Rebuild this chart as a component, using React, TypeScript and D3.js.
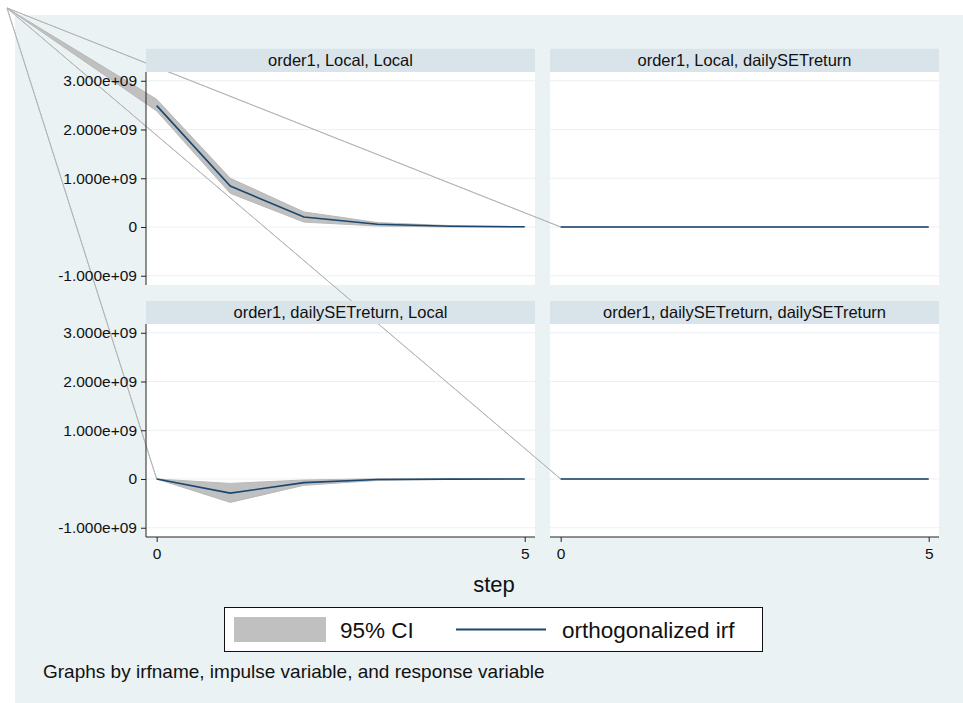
import * as d3 from "d3";
import React, { useEffect, useRef } from "react";

// data
const steps = [0, 1, 2, 3, 4, 5];

const panelTitles = [
  "order1, Local, Local",
  "order1, Local, dailySETreturn",
  "order1, dailySETreturn, Local",
  "order1, dailySETreturn, dailySETreturn",
];

const irfLocalLocal = [2.49e9, 0.84e9, 0.205e9, 0.055e9, 0.014e9, 0.004e9];
const lowerLocalLocal = [2.38e9, 0.69e9, 0.1e9, 0.02e9, 0.0, 0.0];
const upperLocalLocal = [2.62e9, 1.0e9, 0.31e9, 0.09e9, 0.028e9, 0.008e9];

const irfLocalDaily = [0, 0, 0, 0, 0, 0];
const lowerLocalDaily = [0, 0, 0, 0, 0, 0];
const upperLocalDaily = [0, 0, 0, 0, 0, 0];

const irfDailyLocal = [0, -0.29e9, -0.075e9, -0.01e9, -0.002e9, 0];
const lowerDailyLocal = [0, -0.48e9, -0.13e9, -0.03e9, -0.006e9, -0.001e9];
const upperDailyLocal = [0, -0.09e9, -0.02e9, 0.005e9, 0.002e9, 0.001e9];

const irfDailyDaily = [0, 0, 0, 0, 0, 0];
const lowerDailyDaily = [0, 0, 0, 0, 0, 0];
const upperDailyDaily = [0, 0, 0, 0, 0, 0];

const yTicks = [-1e9, 0, 1e9, 2e9, 3e9];
const yTickLabels = ["-1.000e+09", "0", "1.000e+09", "2.000e+09", "3.000e+09"];
const xTicks = [0, 5];

const legendLabels = ["95% CI", "orthogonalized irf"];
const xTitle = "step";
const noteText = "Graphs by irfname, impulse variable, and response variable";

const App: React.FC = () => {
  const svgRef = useRef<SVGSVGElement | null>(null);

  useEffect(() => {
    const width = 963;
    const height = 703;
    const svg = d3.select(svgRef.current);
    svg.selectAll("*").remove();

    const font = "'Liberation Sans', Arial, Helvetica, sans-serif";
    const navy = "#1a476f";
    const ciGrey = "#c0c0c0";
    const origin: [number, number] = [7, 8]; // stray path start seen in the picture

    const cols = [
      { x0: 146, x1: 535 },
      { x0: 550, x1: 939 },
    ];
    const rows = [
      { strip: 48.7, top: 72, bottom: 285 },
      { strip: 301, top: 324, bottom: 537 },
    ];

    const panels = [
      { title: panelTitles[0], irf: irfLocalLocal, lo: lowerLocalLocal, hi: upperLocalLocal, c: 0, r: 0 },
      { title: panelTitles[1], irf: irfLocalDaily, lo: lowerLocalDaily, hi: upperLocalDaily, c: 1, r: 0 },
      { title: panelTitles[2], irf: irfDailyLocal, lo: lowerDailyLocal, hi: upperDailyLocal, c: 0, r: 1 },
      { title: panelTitles[3], irf: irfDailyDaily, lo: lowerDailyDaily, hi: upperDailyDaily, c: 1, r: 1 },
    ].map((p) => {
      const col = cols[p.c];
      const row = rows[p.r];
      const x = d3.scaleLinear().domain([-0.145, 5.14]).range([col.x0, col.x1]);
      const y = d3.scaleLinear().domain([-1.19e9, 3.18e9]).range([row.bottom, row.top]);
      return { ...p, col, row, x, y };
    });

    // background
    svg.append("rect").attr("width", width).attr("height", height).attr("fill", "#ffffff");
    svg
      .append("rect")
      .attr("x", 15)
      .attr("y", 15)
      .attr("width", width - 15)
      .attr("height", height - 15)
      .attr("fill", "#eaf2f3");

    // plot regions + grid
    panels.forEach((p) => {
      svg
        .append("rect")
        .attr("x", p.col.x0)
        .attr("y", p.row.top)
        .attr("width", p.col.x1 - p.col.x0)
        .attr("height", p.row.bottom - p.row.top)
        .attr("fill", "#ffffff");
      svg
        .append("g")
        .selectAll("line")
        .data(yTicks)
        .join("line")
        .attr("x1", p.col.x0)
        .attr("x2", p.col.x1)
        .attr("y1", (d) => p.y(d))
        .attr("y2", (d) => p.y(d))
        .attr("stroke", "#eaf2f3")
        .attr("stroke-width", 1.2);
    });

    // CI bands (each path starts at the stray origin point)
    panels.forEach((p) => {
      const upper = steps.map((s, i) => [p.x(s), p.y(p.hi[i])] as [number, number]);
      const lower = steps.map((s, i) => [p.x(s), p.y(p.lo[i])] as [number, number]).reverse();
      svg
        .append("path")
        .attr("d", d3.line()([origin, ...upper, ...lower]) + "Z")
        .attr("fill", ciGrey)
        .attr("stroke", "#b4b4b4")
        .attr("stroke-width", 0.9);
    });

    // irf lines
    panels.forEach((p) => {
      const line = d3
        .line<number>()
        .x((_, i) => p.x(steps[i]))
        .y((d) => p.y(d));
      svg
        .append("path")
        .datum(p.irf)
        .attr("fill", "none")
        .attr("stroke", navy)
        .attr("stroke-width", 1.6)
        .attr("d", line);
    });

    // strips
    panels.forEach((p) => {
      svg
        .append("rect")
        .attr("x", p.col.x0)
        .attr("y", p.row.strip)
        .attr("width", p.col.x1 - p.col.x0)
        .attr("height", p.row.top - p.row.strip)
        .attr("fill", "#d9e4ea");
      svg
        .append("text")
        .attr("x", (p.col.x0 + p.col.x1) / 2)
        .attr("y", (p.row.strip + p.row.top) / 2)
        .attr("dy", "0.36em")
        .attr("text-anchor", "middle")
        .attr("font-family", font)
        .attr("font-size", 16.5)
        .attr("fill", "#111")
        .text(p.title);
    });

    // axes: y on the left column, x on the bottom row
    panels.forEach((p) => {
      if (p.c === 0) {
        const g = svg.append("g").attr("transform", `translate(${p.col.x0},0)`);
        g.call(
          d3
            .axisLeft(p.y)
            .tickValues(yTicks)
            .tickSize(5)
            .tickPadding(4)
            .tickFormat((_, i) => yTickLabels[i])
        );
        g.select(".domain").attr("d", `M-0,${p.row.top}V${p.row.bottom}`).attr("stroke", "#222");
        g.selectAll("line").attr("stroke", "#222");
        g.selectAll("text").attr("font-family", font).attr("font-size", 15.5).attr("fill", "#111");
      }
      if (p.r === 1) {
        const g = svg.append("g").attr("transform", `translate(0,${p.row.bottom})`);
        g.call(d3.axisBottom(p.x).tickValues(xTicks).tickSize(5).tickPadding(6).tickFormat(d3.format("d")));
        g.select(".domain").attr("d", `M${p.col.x0},0H${p.col.x1}`).attr("stroke", "#222");
        g.selectAll("line").attr("stroke", "#222");
        g.selectAll("text").attr("font-family", font).attr("font-size", 15.5).attr("fill", "#111");
      }
    });

    // x title
    svg
      .append("text")
      .attr("x", 494)
      .attr("y", 592)
      .attr("text-anchor", "middle")
      .attr("font-family", font)
      .attr("font-size", 22)
      .attr("fill", "#111")
      .text(xTitle);

    // legend
    const lg = svg.append("g");
    lg.append("rect")
      .attr("x", 224.5)
      .attr("y", 607.5)
      .attr("width", 538)
      .attr("height", 44)
      .attr("fill", "#ffffff")
      .attr("stroke", "#111")
      .attr("stroke-width", 1);
    lg.append("rect").attr("x", 234).attr("y", 617).attr("width", 92).attr("height", 25).attr("fill", ciGrey);
    lg.append("text")
      .attr("x", 340)
      .attr("y", 637.5)
      .attr("font-family", font)
      .attr("font-size", 22.5)
      .attr("fill", "#111")
      .text(legendLabels[0]);
    lg.append("line")
      .attr("x1", 456)
      .attr("x2", 546)
      .attr("y1", 629.5)
      .attr("y2", 629.5)
      .attr("stroke", navy)
      .attr("stroke-width", 2);
    lg.append("text")
      .attr("x", 562)
      .attr("y", 637.5)
      .attr("font-family", font)
      .attr("font-size", 22.5)
      .attr("fill", "#111")
      .text(legendLabels[1]);

    // note
    svg
      .append("text")
      .attr("x", 43)
      .attr("y", 678)
      .attr("font-family", font)
      .attr("font-size", 19)
      .attr("fill", "#111")
      .text(noteText);
  }, []);

  return (
    <svg
      ref={svgRef}
      width={963}
      height={703}
      style={{ position: "absolute", left: 0, top: 0, display: "block" }}
    ></svg>
  );
};

export default App;
